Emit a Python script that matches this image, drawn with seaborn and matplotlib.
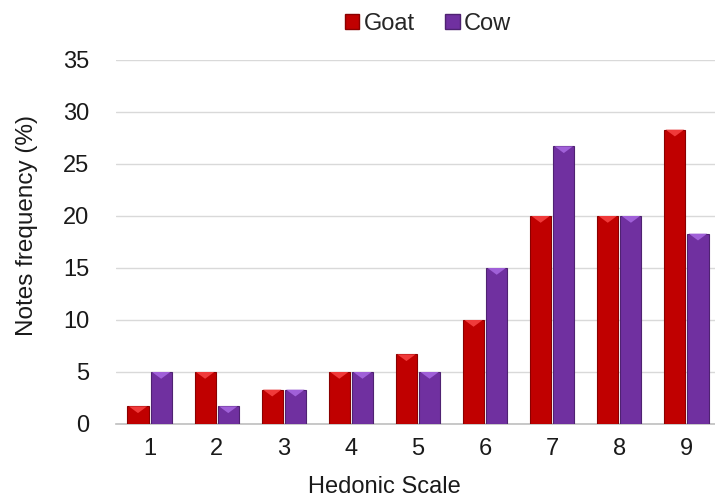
import matplotlib
matplotlib.use("Agg")
import matplotlib.pyplot as plt
import seaborn as sns
import pandas as pd
from matplotlib.patches import Patch, Polygon

scale = ["1", "2", "3", "4", "5", "6", "7", "8", "9"]
goat = [1.7, 5.0, 3.3, 5.0, 6.7, 10.0, 20.0, 20.0, 28.3]
cow = [5.0, 1.7, 3.3, 5.0, 5.0, 15.0, 26.7, 20.0, 18.3]
series = ["Goat", "Cow"]
colors = {"Goat": "#C00000", "Cow": "#7030A0"}
edges = {"Goat": "#8A0000", "Cow": "#4F2272"}
tops = {"Goat": "#F03A3A", "Cow": "#A060D8"}

df = pd.DataFrame({
	"scale": scale * 2,
	"value": goat + cow,
	"series": ["Goat"] * len(scale) + ["Cow"] * len(scale),
})

sns.set_theme(style="white")
plt.rcParams['font.family'] = ['Liberation Sans', 'DejaVu Sans']

fig = plt.figure(figsize=(7.15, 4.97), dpi=100)
ax = fig.add_axes([116 / 715, 1 - 424 / 497, 604 / 715, (424 - 60) / 497])

sns.barplot(data=df, x="scale", y="value", hue="series", hue_order=series,
			palette=colors, saturation=1, width=0.69, gap=0.09, ax=ax, legend=False)

# small bevel on top of each bar
for cont, name in zip(ax.containers, series):
	for bar in cont:
		bar.set_edgecolor(edges[name])
		bar.set_linewidth(0.8)
		bar.set_zorder(3)
		x0, w, h = bar.get_x(), bar.get_width(), bar.get_height()
		d = min(0.65, h * 0.4)
		tri = Polygon([(x0 + 0.02, h), (x0 + w - 0.02, h), (x0 + w / 2, h - d)],
					  closed=True, facecolor=tops[name], edgecolor="none", zorder=4)
		ax.add_patch(tri)

ax.set_ylim(0, 35)
ax.set_yticks(range(0, 36, 5))
ax.set_xlim(-0.5, 8.5)
ax.yaxis.grid(True, color="#D9D9D9", linewidth=1)
ax.set_axisbelow(True)
for s in ["top", "right", "left"]:
	ax.spines[s].set_visible(False)
ax.spines["bottom"].set_color("#BFBFBF")
ax.spines["bottom"].set_linewidth(1.2)
ax.tick_params(axis="both", length=0, labelsize=17, colors="#1a1a1a")
ax.tick_params(axis="y", pad=19)
ax.tick_params(axis="x", pad=10)
ax.set_xlabel("Hedonic Scale", fontsize=17, color="#1a1a1a")
ax.set_ylabel("Notes frequency (%)", fontsize=17.5, color="#1a1a1a")
ax.xaxis.set_label_coords((384 - 116) / 604, -(487 - 424) / 364)
ax.yaxis.set_label_coords((27 - 116) / 604, (424 - 225) / 364)
ax.xaxis.label.set_va("center")
ax.yaxis.label.set_va("center")

handles = [Patch(facecolor=colors[n], edgecolor=edges[n]) for n in series]
fig.legend(handles, series, loc="center", bbox_to_anchor=(428 / 715, 1 - 24 / 497),
		   ncol=2, frameon=False, fontsize=17, handlelength=0.6, handleheight=0.6,
		   handletextpad=0.2, columnspacing=1.3)

fig.savefig("out.png", dpi=100)
